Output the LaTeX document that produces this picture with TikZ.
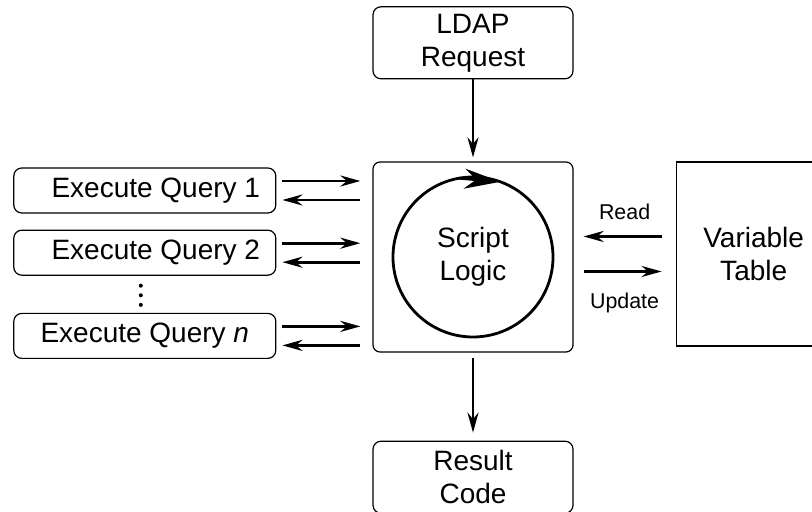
\documentclass[tikz,border=0pt]{standalone}
\usepackage{fontspec}
\setmainfont{Liberation Sans}
\usetikzlibrary{arrows.meta,calc,positioning}

\begin{document}
\begin{tikzpicture}[>={Stealth[length=10pt,width=5.5pt]},
    font=\fontsize{14}{16.5}\selectfont,
    box/.style={rectangle, draw, line width=0.6pt, rounded corners=4pt, align=center, inner sep=0pt},
    query/.style={box, minimum width=131pt, minimum height=22.5pt},
    flow/.style={->, line width=1.45pt},
    lab/.style={font=\fontsize{10.7}{12}\selectfont, inner sep=2pt}]
    \useasboundingbox (-236.5pt,-127.5pt) rectangle (169.5pt,128.5pt);
    \node[box, minimum width=100pt, minimum height=95pt, rounded corners=3.5pt] (logic) {Script\\Logic};
    \node[box, minimum width=100pt, minimum height=36pt, above=41pt of logic] (ldap) {LDAP\\Request};
    \node[box, minimum width=100pt, minimum height=36pt, below=44pt of logic] (result) {Result\\Code};
    \node[box, rounded corners=0pt, minimum width=77.5pt, minimum height=92pt,
          right=51pt of logic.north east, anchor=north west] (vars) {Variable\\Table};
    \node[query, left=48pt of logic.north west, anchor=north east, yshift=-3pt] (q1) {\hspace*{11pt}Execute Query 1};
    \node[query, below=8pt of q1] (q2) {\hspace*{11pt}Execute Query 2};
    \node[query, below=18.5pt of q2] (qn) {Execute Query \textit{n}};
    \coordinate[xshift=-2pt, yshift=-0.5pt] (dots) at ($(q2.south)!0.5!(qn.north)$);
    \foreach \k in {-1,0,1}
        \fill ($(dots)+(0,\k*4.8pt)$) circle[radius=1pt];

    % the loop inside the script box
    \coordinate (tail) at ($(logic.center)+(100:40pt)$);
    \coordinate (tip) at ($(logic.center)+(70:40pt)$);
    \draw[line width=1.4pt] (logic.center) circle[radius=40pt];
    \draw[line width=1.4pt, -{Stealth[length=18pt,width=10pt]}] (tail) -- (tip);

    \draw[flow, shorten >=2pt] (ldap) -- (logic);
    \draw[flow, shorten <=2.5pt, shorten >=4pt] (logic) -- (result);
    \foreach \q in {q1,q2,qn} {
        \draw[flow, shorten <=3pt, shorten >=6pt] ($(\q.east)+(0,4.75pt)$) -- ($(logic.west |- \q.east)+(0,4.75pt)$);
        \draw[flow, shorten <=6pt, shorten >=3pt] ($(logic.west |- \q.east)+(0,-4.75pt)$) -- ($(\q.east)+(0,-4.75pt)$);
    }
    \draw[flow, shorten <=7pt, shorten >=5pt] ($(vars.west)+(0,8.75pt)$) -- ($(logic.east |- vars.west)+(0,8.75pt)$)
        node[lab, midway, above=5.5pt] {Read};
    \draw[flow, shorten <=5pt, shorten >=7pt] ($(logic.east |- vars.west)+(0,-8.75pt)$) -- ($(vars.west)+(0,-8.75pt)$)
        node[lab, midway, below=8pt] {Update};
\end{tikzpicture}
\end{document}
